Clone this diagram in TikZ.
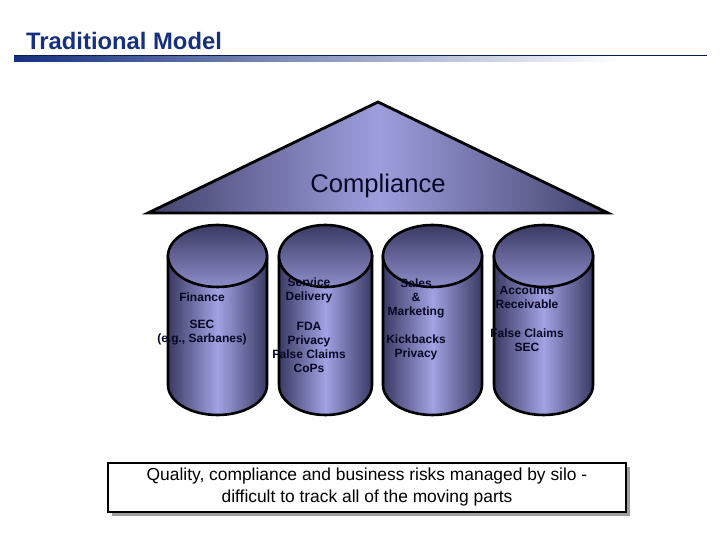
\documentclass[tikz,border=0pt]{standalone}
\usepackage{fontspec}
\setmainfont{Liberation Sans}
\usetikzlibrary{positioning,calc}
\definecolor{titleblue}{RGB}{22,48,128}
\definecolor{silodark}{RGB}{58,58,100}
\definecolor{silolight}{RGB}{162,162,228}
\definecolor{roofdark}{RGB}{66,66,108}
\definecolor{rooflight}{RGB}{158,158,222}
\definecolor{silotext}{RGB}{8,8,36}

\begin{document}
\begin{tikzpicture}[x=1pt, y=1pt,
      silo/.style={draw=black, line width=2.6pt, left color=silodark, right color=silodark, middle color=silolight},
      silotop/.style={draw=black, line width=2.6pt, top color=silodark, bottom color=silolight!80!silodark},
      roof/.style={draw=black, line width=2.8pt, line join=miter, left color=roofdark, right color=roofdark, middle color=rooflight},
      silolabel/.style={font=\fontsize{12}{14}\selectfont\bfseries, text=silotext, align=center, inner sep=0pt},
      note/.style={rectangle, draw=black, line width=2.5pt, fill=white, align=center, font=\fontsize{17.4}{22}\selectfont, minimum width=518pt, minimum height=49pt}
    ]
      \useasboundingbox (0,0) rectangle (720,540);

      % title and rule
      \node[anchor=base west, inner sep=0pt, font=\fontsize{23.8}{28}\selectfont\bfseries, text=titleblue] (title) at (26,490) {Traditional Model};
      \fill[left color=titleblue, right color=white] (14,478) rectangle (620,484);
      \draw[titleblue!60!black, line width=0.8pt] (14,485) -- (707,485);

      % roof
      \filldraw[roof] (148,327) -- (378,438) -- (608,327) -- cycle;
      \node[font=\fontsize{25.6}{30}\selectfont, text=silotext] (roofname) at (378,354) {Compliance};

      % silos
      \foreach \cx/\rx in {217.5/49.5, 325.5/46.5, 432.5/49.5, 543.5/49.5}{
        \path[silo] (\cx-\rx,284) -- (\cx-\rx,155) arc[start angle=180, end angle=360, x radius=\rx, y radius=30] -- (\cx+\rx,284) -- cycle;
        \path[silotop] (\cx,284) ellipse[x radius=\rx, y radius=31];
      }

      \node[silolabel] (fin) at (202,243) {Finance};
      \node[silolabel] (finreg) at (202,207) {SEC\\(e.g., Sarbanes)};
      \node[silolabel] (svc) at (309,249.5) {Service\\Delivery};
      \node[silolabel] (svcreg) at (309,192.5) {FDA\\Privacy\\False Claims\\CoPs};
      \node[silolabel] (sales) at (416,242) {Sales\\\&\\Marketing};
      \node[silolabel] (salesreg) at (416,192.5) {Kickbacks\\Privacy};
      \node[silolabel] (ar) at (527,243) {Accounts\\Receivable};
      \node[silolabel] (arreg) at (527,199.5) {False Claims\\SEC};

      % summary box
      \fill[black!38] (112,24) rectangle (630,73);
      \node[note] (summary) at (367,52.5) {Quality, compliance and business risks managed by silo -\\difficult to track all of the moving parts};
    \end{tikzpicture}
\end{document}
